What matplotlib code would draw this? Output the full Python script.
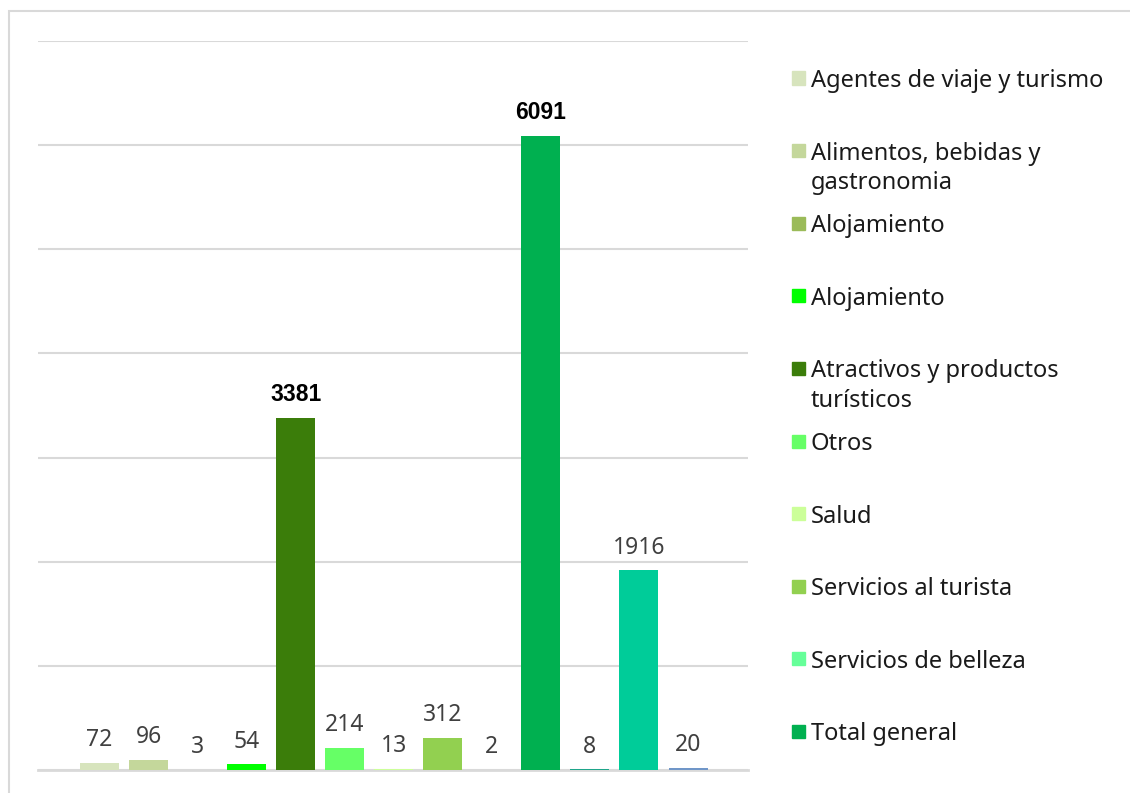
import numpy as np
import matplotlib.pyplot as plt
from matplotlib.patches import Rectangle

# series shown in the legend (first 10 bars), the last three bars have no entry
legend_labels = ['Agentes de viaje y turismo', 'Alimentos, bebidas y\ngastronomia',
                 'Alojamiento', 'Alojamiento', 'Atractivos y productos\nturísticos',
                 'Otros', 'Salud', 'Servicios al turista', 'Servicios de belleza',
                 'Total general']
values = [72, 96, 3, 54, 3381, 214, 13, 312, 2, 6091, 8, 1916, 20]
bold_labels = [3381, 6091]
colors = ['#D7E4BD', '#C4D79B', '#9BBB59', '#00FF00', '#3B7D0A', '#66FF66',
          '#CCFF99', '#92D050', '#66FF99', '#00B050', '#1FA58A', '#00CC99', '#7096C8']
yticks = np.arange(0, 8000, 1000)

W, H = 1130, 793
fig = plt.figure(figsize=(W / 100, H / 100), dpi=100)
plt.rcParams['font.family'] = ['Noto Sans', 'DejaVu Sans']

# outer chart frame
fig.patches.append(Rectangle((9 / W, -0.05), 1.2, 1 - 11 / H + 0.05,
                             transform=fig.transFigure, fill=False,
                             edgecolor='#D9D9D9', lw=1.5))

left, right, top, bottom = 38, 748, 41, 770
ax = fig.add_axes([left / W, 1 - bottom / H, (right - left) / W, (bottom - top) / H])

x = np.arange(len(values))
ax.bar(x, values, width=0.795, color=colors, zorder=3)
ax.set_xlim(-1.254, 13.223)
ax.set_ylim(0, 7000)
ax.set_yticks(yticks)
ax.yaxis.grid(True, color='#D9D9D9', lw=1.5)
ax.set_axisbelow(True)
ax.tick_params(left=False, bottom=False, labelleft=False, labelbottom=False)
for s in ['top', 'right', 'left']:
    ax.spines[s].set_visible(False)
ax.spines['bottom'].set_color('#D9D9D9')
ax.spines['bottom'].set_linewidth(2)

for xi, v in zip(x, values):
    if v in bold_labels:
        ax.annotate(str(v), (xi, v), xytext=(0, 12), textcoords='offset points',
                    ha='center', va='baseline', fontsize=16.5, fontweight='bold',
                    color='black', family=['Liberation Sans', 'DejaVu Sans'])
    else:
        ax.annotate(str(v), (xi, v), xytext=(0, 12), textcoords='offset points',
                    ha='center', va='baseline', fontsize=16.5, color='#404040')

# legend on the right
y0, step = 78, 72.6
for i, (lab, c) in enumerate(zip(legend_labels, colors)):
    yc = y0 + i * step
    fig.patches.append(Rectangle((792 / W, 1 - (yc + 6.5) / H), 13 / W, 13 / H,
                                 transform=fig.transFigure, color=c))
    fig.text(811 / W, 1 - (yc - 9) / H, lab, ha='left', va='top', fontsize=17,
             color='#1A1A1A', linespacing=1.3)

fig.savefig('out.png', dpi=100)
